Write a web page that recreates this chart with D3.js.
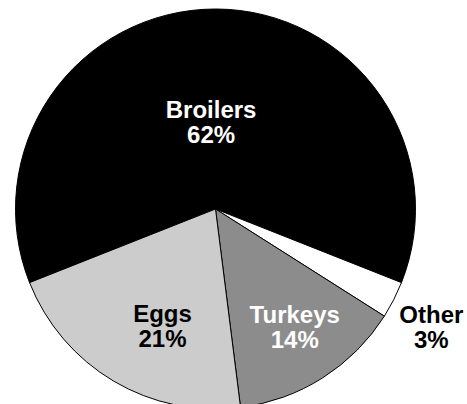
<!DOCTYPE html>
<html>
<head>
<meta charset="utf-8">
<script src="https://cdn.jsdelivr.net/npm/d3@7"></script>
<style>
  html, body { margin: 0; padding: 0; background: #fff; }
  .slice-label { font-family: "Liberation Sans", Arial, sans-serif; font-weight: bold; font-size: 24px; }
</style>
</head>
<body>
<div id="pieChart"></div>
<script>
// poultry shares (percent), clockwise starting at Broilers
var categories = ["Broilers", "Other", "Turkeys", "Eggs"];
var shares = [62, 3, 14, 21];

var width = 467, height = 404;
var cx = 215.5, cy = 209, radius = 200;

var fills = {Broilers: "#000000", Other: "#ffffff", Turkeys: "#8c8c8c", Eggs: "#cccccc"};
var textFill = {Broilers: "#ffffff", Other: "#000000", Turkeys: "#ffffff", Eggs: "#000000"};
// label placement: radius and small angle nudge (degrees) from slice middle
var labelPlace = {
  Broilers: {r: 91, nudge: -2.8},
  Other: {r: 244, nudge: 0.8},
  Turkeys: {r: 138.5, nudge: -2.5},
  Eggs: {r: 125, nudge: -5.5}
};

var rows = categories.map(function(c, i) { return {name: c, value: shares[i]}; });

var svg = d3.select("#pieChart")
  .append("svg")
  .attr("width", width)
  .attr("height", height)
  .style("display", "block");

var g = svg.append("g")
  .attr("transform", "translate(" + cx + "," + cy + ")");

// broilers centred on top
var start = -Math.PI * shares[0] / 100;
var pie = d3.pie()
  .sort(null)
  .value(function(d) { return d.value; })
  .startAngle(start)
  .endAngle(start + 2 * Math.PI);

var arc = d3.arc().innerRadius(0).outerRadius(radius);

var arcs = pie(rows);

g.selectAll("path")
  .data(arcs)
  .enter()
  .append("path")
  .attr("d", arc)
  .style("fill", function(d) { return fills[d.data.name]; })
  .style("stroke", "#000")
  .style("stroke-width", 1);

var labels = g.selectAll("text")
  .data(arcs)
  .enter()
  .append("text")
  .attr("class", "slice-label")
  .attr("text-anchor", "middle")
  .style("fill", function(d) { return textFill[d.data.name]; })
  .attr("transform", function(d) {
    var p = labelPlace[d.data.name];
    var a = (d.startAngle + d.endAngle) / 2 + p.nudge * Math.PI / 180;
    var pt = d3.pointRadial(a, p.r);
    return "translate(" + pt[0] + "," + pt[1] + ")";
  });

labels.append("tspan")
  .attr("x", 0)
  .attr("y", 0)
  .text(function(d) { return d.data.name; });

labels.append("tspan")
  .attr("x", 0)
  .attr("y", 25)
  .text(function(d) { return d.data.value + "%"; });
</script>
</body>
</html>
